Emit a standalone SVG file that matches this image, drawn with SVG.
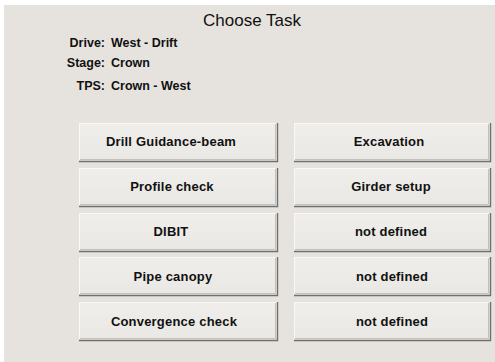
<svg xmlns="http://www.w3.org/2000/svg" width="495" height="362" viewBox="0 0 495 362">
<defs>
<linearGradient id="bg" x1="0" y1="0" x2="0" y2="1">
<stop offset="0" stop-color="#efeeeb"/>
<stop offset="1" stop-color="#e9e8e4"/>
</linearGradient>
<g id="btnL">
<rect x="0" y="0" width="198" height="38" fill="url(#bg)"/>
<path d="M0 38.5 H198.5 V0" fill="none" stroke="#6f6f6f" stroke-width="1.4"/>
<path d="M0.5 37 V0.5 H197" fill="none" stroke="#f8f8f6" stroke-width="1"/>
<path d="M1 36.5 H196.5 V1" fill="none" stroke="#c2c1bd" stroke-width="1"/>
</g>
<g id="btnR">
<rect x="0" y="0" width="196" height="38" fill="url(#bg)"/>
<path d="M0 38.5 H196.5 V0" fill="none" stroke="#6f6f6f" stroke-width="1.4"/>
<path d="M0.5 37 V0.5 H195" fill="none" stroke="#f8f8f6" stroke-width="1"/>
<path d="M1 36.5 H194.5 V1" fill="none" stroke="#c2c1bd" stroke-width="1"/>
</g>
</defs>
<style>
.title{font-family:"Liberation Sans",Arial,sans-serif;font-size:17px;fill:#111;text-anchor:middle}
.lbl{font-family:"Liberation Sans",Arial,sans-serif;font-size:12.5px;font-weight:bold;fill:#111}
.r{text-anchor:end}
.bt{font-family:"Liberation Sans",Arial,sans-serif;font-size:13px;font-weight:bold;fill:#111;text-anchor:middle;letter-spacing:0.2px}
</style>
<rect x="0" y="0" width="495" height="362" fill="#ffffff"/>
<rect x="4" y="5" width="491" height="357" fill="#e6e3de"/>
<text class="title" x="252" y="26">Choose Task</text>
<g id="info">
<text class="lbl r" x="105" y="47">Drive:</text>
<text class="lbl" x="111" y="47">West - Drift</text>
<text class="lbl r" x="105" y="67">Stage:</text>
<text class="lbl" x="111" y="67">Crown</text>
<text class="lbl r" x="105" y="90">TPS:</text>
<text class="lbl" x="111" y="90">Crown - West</text>
</g>
<g id="b1"><use href="#btnL" x="79" y="123"/><text class="bt" x="171" y="146">Drill Guidance-beam</text></g>
<g id="b2"><use href="#btnL" x="79" y="168"/><text class="bt" x="172" y="191">Profile check</text></g>
<g id="b3"><use href="#btnL" x="79" y="213"/><text class="bt" x="171" y="236">DIBIT</text></g>
<g id="b4"><use href="#btnL" x="79" y="257"/><text class="bt" x="173" y="281">Pipe canopy</text></g>
<g id="b5"><use href="#btnL" x="79" y="302"/><text class="bt" x="174" y="326">Convergence check</text></g>
<g id="b6"><use href="#btnR" x="294" y="123"/><text class="bt" x="389" y="146">Excavation</text></g>
<g id="b7"><use href="#btnR" x="294" y="168"/><text class="bt" x="391" y="191">Girder setup</text></g>
<g id="b8"><use href="#btnR" x="294" y="213"/><text class="bt" x="391" y="236">not defined</text></g>
<g id="b9"><use href="#btnR" x="294" y="257"/><text class="bt" x="392" y="281">not defined</text></g>
<g id="b10"><use href="#btnR" x="294" y="302"/><text class="bt" x="392" y="326">not defined</text></g>
<g id="connectors"/>
</svg>
